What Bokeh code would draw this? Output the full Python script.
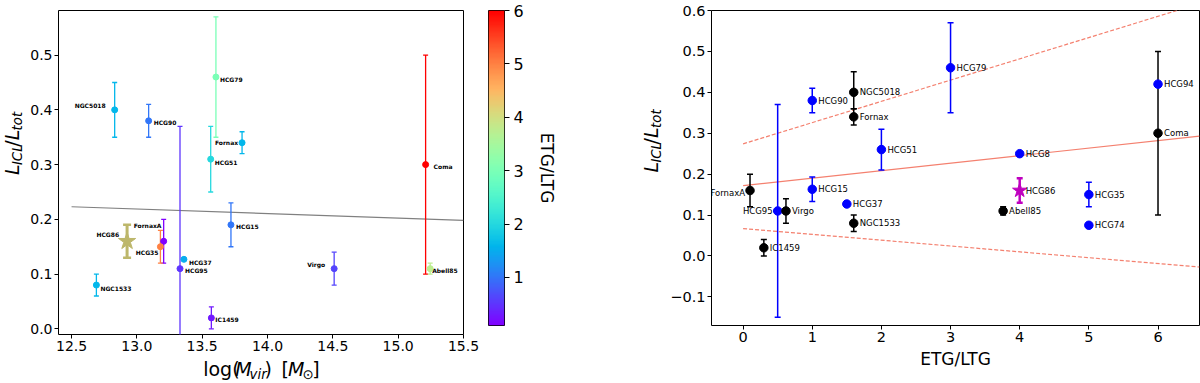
import math
import numpy as np
from bokeh.plotting import figure
from bokeh.layouts import row, column
from bokeh.models import ColumnDataSource, Range1d, FixedTicker, LinearColorMapper
from bokeh.transform import transform
from bokeh.core.properties import value
from bokeh.embed import file_html
from bokeh.resources import INLINE

# ---------------- data: left panel (L_ICL/L_tot vs log Mvir) ----------------
left_names = ["NGC5018", "HCG90", "HCG79", "HCG51", "Fornax", "HCG95", "HCG15", "FornaxA",
              "HCG35", "HCG37", "NGC1533", "IC1459", "Virgo", "Coma", "Abell85"]
left_logm = [12.83, 13.09, 13.605, 13.565, 13.805, 13.33, 13.72, 13.205,
             13.18, 13.36, 12.69, 13.57, 14.51, 15.21, 15.245]
left_frac = [0.40, 0.38, 0.46, 0.31, 0.34, 0.11, 0.19, 0.16,
             0.15, 0.127, 0.08, 0.02, 0.11, 0.30, 0.11]
left_lo = [0.35, 0.35, 0.35, 0.25, 0.32, -0.15, 0.15, 0.12,
           0.12, float("nan"), 0.06, 0.0, 0.08, 0.10, 0.10]
left_hi = [0.45, 0.41, 0.57, 0.37, 0.36, 0.37, 0.23, 0.20,
           0.18, float("nan"), 0.10, 0.04, 0.14, 0.50, 0.12]
left_etg = [1.6, 1.0, 3.0, 2.0, 1.6, 0.5, 1.0, 0.1,
            5.0, 1.5, 1.6, 0.3, 0.62, 6.0, 3.76]

star_name = ["HCG86"]
star_logm = [12.925]
star_frac = [0.16]
star_lo = [0.13]
star_hi = [0.19]

mass_fit_x = [12.5, 15.5]
mass_fit_y = [0.223, 0.198]

# ---------------- data: right panel (L_ICL/L_tot vs ETG/LTG) ----------------
right_names = ["FornaxA", "HCG95", "Virgo", "IC1459", "HCG90", "HCG15", "NGC5018", "Fornax",
               "HCG37", "NGC1533", "HCG51", "HCG79", "Abell85", "HCG8", "HCG86", "HCG35",
               "HCG74", "HCG94", "Coma"]
right_etg = [0.1, 0.5, 0.62, 0.3, 1.0, 1.0, 1.6, 1.6,
             1.5, 1.6, 2.0, 3.0, 3.76, 4.0, 4.0, 5.0,
             5.0, 6.0, 6.0]
right_frac = [0.16, 0.11, 0.11, 0.02, 0.38, 0.163, 0.40, 0.34,
              0.127, 0.08, 0.26, 0.46, 0.11, 0.25, 0.16, 0.15,
              0.075, 0.42, 0.30]
nan = float("nan")
right_lo = [0.12, -0.15, 0.08, 0.0, 0.35, 0.133, 0.36, 0.32,
            nan, 0.06, 0.21, 0.35, 0.10, nan, 0.13, 0.12,
            nan, nan, 0.10]
right_hi = [0.20, 0.37, 0.14, 0.04, 0.41, 0.193, 0.45, 0.36,
            nan, 0.10, 0.31, 0.57, 0.12, nan, 0.19, 0.18,
            nan, nan, 0.50]
right_kind = ["cluster", "group", "cluster", "cluster", "group", "group", "cluster", "cluster",
              "group", "cluster", "group", "group", "cluster", "group", "hcg86", "group",
              "group", "group", "cluster"]

fit_x = [0.0, 6.6]
fit_mid = [0.172, 0.293]
fit_up = [0.274, 0.617]
fit_low = [0.067, -0.027]

# ---------------- styles ----------------
FONT = "DejaVu Sans"
KIND_COLOR = {"group": "#0000ff", "cluster": "#000000", "hcg86": "#bf00bf"}

LEFT_LABEL_POS = {
    "NGC5018": (-9, -4, "right"), "HCG90": (5, 2, "left"), "HCG79": (4, 2, "left"),
    "HCG51": (4, 3, "left"), "Fornax": (-4, 0, "right"), "HCG95": (5, 2, "left"),
    "HCG15": (5, 2, "left"), "FornaxA": (-30, -16, "left"), "HCG35": (-2, 6, "right"),
    "HCG37": (5, 3, "left"), "NGC1533": (4, 3, "left"), "IC1459": (4, 2, "left"),
    "Virgo": (-9, -4, "right"), "Coma": (8, 2, "left"), "Abell85": (2, 2, "left"),
    "HCG86": (-8, -7, "right"),
}
RIGHT_LABEL_POS = {"FornaxA": (-5, 2, "right"), "HCG95": (-5, 0, "right")}


def rainbow_hex(t):
    r = min(max(abs(2 * t - 0.5), 0), 1)
    g = min(max(math.sin(math.pi * t), 0), 1)
    b = min(max(math.cos(math.pi * t / 2), 0), 1)
    return "#%02x%02x%02x" % (round(r * 255), round(g * 255), round(b * 255))


palette = [rainbow_hex(i / 255) for i in range(256)]
mapper = LinearColorMapper(palette=palette, low=min(left_etg), high=max(left_etg))

EM = {"l": 0.278, "o": 0.612, "g": 0.635, "(": 0.390, ")": 0.390, "M": 0.863, "v": 0.592,
      "i": 0.278, "r": 0.411, " ": 0.318, "[": 0.390, "]": 0.390, "\u2299": 0.838,
      "L": 0.557, "I": 0.295, "C": 0.698, "/": 0.337, "t": 0.392}
MID = 0.33  # distance (em) from alphabetic baseline to the 'middle' text baseline


def twidth(s, size):
    return sum(EM.get(c, 0.6) for c in s) * size


def style_axes(p, fs):
    p.outline_line_color = "black"
    p.outline_line_width = 1
    p.xgrid.visible = False
    p.ygrid.visible = False
    p.background_fill_color = "white"
    p.border_fill_color = "white"
    for ax in p.axis:
        ax.axis_line_color = None
        ax.major_tick_in = 0
        ax.major_tick_out = 4
        ax.major_tick_line_color = "black"
        ax.minor_tick_line_color = None
        ax.major_label_text_font = FONT
        ax.major_label_text_font_size = fs
        ax.major_label_text_color = "black"
        ax.major_label_standoff = 2


def text_fig(w, h):
    f = figure(width=w, height=h, x_range=Range1d(0, w), y_range=Range1d(0, h),
               output_backend="svg", toolbar_location=None, title=None,
               x_axis_location=None, y_axis_location=None,
               min_border_left=0, min_border_right=0, min_border_top=0, min_border_bottom=0)
    f.outline_line_color = None
    f.xgrid.visible = False
    f.ygrid.visible = False
    return f


def pieces_width(pieces):
    return sum(twidth(t, s) + g for t, s, _, _, g in pieces)


def rich_text(f, pieces, start, base, vertical=False):
    """pieces drawn in pixel coordinates of a text-only figure (y measured from bottom).
    base = alphabetic baseline position."""
    cur = start
    for text, size, style, drop, gap in pieces:
        cur += gap
        if vertical:
            x, y, ang = base + drop - MID * size, cur, math.pi / 2
        else:
            x, y, ang = cur, base - drop + MID * size, 0
        f.text(x=[x], y=[y], text=[text], angle=ang, text_font=value(FONT),
               text_font_size=f"{size}px", text_font_style=style, text_align="left",
               text_baseline="middle", text_color="black")
        cur += twidth(text, size)


def ylabel_pieces(main, sub, g):
    return [("L", main, "italic", 0, 0), ("ICL", sub, "italic", 3.5, g), ("/", main, "normal", 0, g),
            ("L", main, "italic", 0, g), ("tot", sub, "italic", 3.5, g)]


H = 383
ylp = ylabel_pieces(19, 13.3, 1.5)

# ================= left y-label strip =================
yl1 = text_fig(26, H)
rich_text(yl1, ylp, H - 200, 18, vertical=True)

# ================= left figure =================
LX, LY = (12.4, 15.5), (-0.0103, 0.5815)
p1 = figure(width=461, height=357, x_range=Range1d(*LX), y_range=Range1d(*LY),
            output_backend="svg", toolbar_location=None, title=None,
            min_border_left=32, min_border_right=24, min_border_top=10, min_border_bottom=23)
style_axes(p1, "14px")
xt = [12.5, 13.0, 13.5, 14.0, 14.5, 15.0, 15.5]
p1.xaxis.ticker = FixedTicker(ticks=xt)
p1.xaxis.major_label_overrides = {t: f"{t:.1f}" for t in xt}
yt = [0.0, 0.1, 0.2, 0.3, 0.4, 0.5]
p1.yaxis.ticker = FixedTicker(ticks=yt)
p1.yaxis.major_label_overrides = {t: f"{t:.1f}" for t in yt}

p1.line(mass_fit_x, mass_fit_y, line_color="#808080", line_width=1.2)

has_err = [i for i in range(len(left_names)) if not math.isnan(left_lo[i])]
err_l = ColumnDataSource(dict(x=[left_logm[i] for i in has_err], lo=[left_lo[i] for i in has_err],
                              hi=[left_hi[i] for i in has_err], etg=[left_etg[i] for i in has_err]))
cmap = transform("etg", mapper)
p1.segment(x0="x", y0="lo", x1="x", y1="hi", source=err_l, line_color=cmap, line_width=1.3)
p1.scatter("x", "lo", source=err_l, marker="dash", size=5, line_color=cmap, line_width=1.3)
p1.scatter("x", "hi", source=err_l, marker="dash", size=5, line_color=cmap, line_width=1.3)
pts_l = ColumnDataSource(dict(x=left_logm, y=left_frac, etg=left_etg))
p1.scatter("x", "y", source=pts_l, marker="circle", size=6, fill_color=cmap, line_color=cmap)

p1.segment(x0=star_logm, y0=star_lo, x1=star_logm, y1=star_hi, line_color="darkkhaki", line_width=3)
p1.scatter(star_logm, star_lo, marker="dash", size=8, line_color="darkkhaki", line_width=2.5)
p1.scatter(star_logm, star_hi, marker="dash", size=8, line_color="darkkhaki", line_width=2.5)
p1.scatter(star_logm, star_frac, marker="star", size=18, fill_color="darkkhaki", line_color="darkkhaki")

all_n = left_names + star_name
all_x = left_logm + star_logm
all_y = left_frac + star_frac
for align in ("left", "right"):
    idx = [i for i, n in enumerate(all_n) if LEFT_LABEL_POS[n][2] == align]
    src = ColumnDataSource(dict(x=[all_x[i] for i in idx], y=[all_y[i] for i in idx],
                                t=[all_n[i] for i in idx],
                                dx=[LEFT_LABEL_POS[all_n[i]][0] for i in idx],
                                dy=[LEFT_LABEL_POS[all_n[i]][1] for i in idx]))
    p1.text("x", "y", text="t", source=src, x_offset="dx", y_offset="dy",
            text_font=value(FONT), text_font_style="bold", text_font_size="6px",
            text_align=align, text_baseline="middle", text_color="black")

# ================= left x-label strip =================
xl1 = text_fig(461, H - 357)
xlp = [("log(", 19, "normal", 0, 0), ("M", 19, "italic", 0, 0), ("vir", 13.3, "italic", 4, 0),
       (")", 19, "normal", 0, 0), ("[", 19, "normal", 0, 12), ("M", 19, "italic", 0, 0),
       ("\u2299", 13.3, "normal", 4, 0), ("]", 19, "normal", 0, 0)]
rich_text(xl1, xlp, (256.5 - 26) - pieces_width(xlp) / 2, 8.5)

# ================= colorbar figure =================
lo_c, hi_c = min(left_etg), max(left_etg)
pc = figure(width=73, height=H, x_range=Range1d(0, 1), y_range=Range1d(lo_c, hi_c),
            output_backend="svg", toolbar_location=None, title=None, y_axis_location="right",
            min_border_left=1, min_border_right=56, min_border_top=10, min_border_bottom=49)
style_axes(pc, "16px")
pc.xaxis.visible = False
grad = np.linspace(lo_c, hi_c, 256).reshape(256, 1)
pc.image(image=[grad], x=0, y=lo_c, dw=1, dh=hi_c - lo_c, color_mapper=mapper)
pc.yaxis.ticker = FixedTicker(ticks=[1, 2, 3, 4, 5, 6])
pc.yaxis.major_tick_out = 5
pc.yaxis.major_label_standoff = 4
pc.yaxis.axis_label = "ETG/LTG"
pc.yaxis.axis_label_text_font = FONT
pc.yaxis.axis_label_text_font_size = "17px"
pc.yaxis.axis_label_text_font_style = "normal"
pc.yaxis.axis_label_text_color = "black"
pc.yaxis.axis_label_standoff = 10

# ================= right y-label strip =================
yl2 = text_fig(105, H)
rich_text(yl2, ylp, H - 197, 657 - 560, vertical=True)

# ================= right figure =================
RX, RY = (-0.457, 6.6), (-0.17, 0.6)
p2 = figure(width=535, height=H, x_range=Range1d(*RX), y_range=Range1d(*RY),
            output_backend="svg", toolbar_location=None, title=None,
            min_border_left=46, min_border_right=1, min_border_top=9, min_border_bottom=58)
style_axes(p2, "14.5px")
p2.xaxis.ticker = FixedTicker(ticks=[0, 1, 2, 3, 4, 5, 6])
ryt = [-0.1, 0.0, 0.1, 0.2, 0.3, 0.4, 0.5, 0.6]
p2.yaxis.ticker = FixedTicker(ticks=ryt)
p2.yaxis.major_label_overrides = {t: (f"{t:.1f}".replace("-", "\u2212")) for t in ryt}
p2.xaxis.axis_label = "ETG/LTG"
p2.xaxis.axis_label_text_font = FONT
p2.xaxis.axis_label_text_font_size = "17px"
p2.xaxis.axis_label_text_font_style = "normal"
p2.xaxis.axis_label_text_color = "black"
p2.xaxis.axis_label_standoff = 4

p2.line(fit_x, fit_mid, line_color="#f4806f", line_width=1.2)
p2.line(fit_x, fit_up, line_color="#f4806f", line_width=1.2, line_dash="4 2")
p2.line(fit_x, fit_low, line_color="#f4806f", line_width=1.2, line_dash="4 2")

colors_r = [KIND_COLOR[k] for k in right_kind]
ie = [i for i in range(len(right_names)) if not math.isnan(right_lo[i])]
err_r = ColumnDataSource(dict(x=[right_etg[i] for i in ie], lo=[right_lo[i] for i in ie],
                              hi=[right_hi[i] for i in ie], c=[colors_r[i] for i in ie],
                              w=[2.5 if right_kind[i] == "hcg86" else 1.5 for i in ie]))
p2.segment(x0="x", y0="lo", x1="x", y1="hi", source=err_r, line_color="c", line_width="w")
p2.scatter("x", "lo", source=err_r, marker="dash", size=6, line_color="c", line_width="w")
p2.scatter("x", "hi", source=err_r, marker="dash", size=6, line_color="c", line_width="w")

ic = [i for i in range(len(right_names)) if right_kind[i] != "hcg86"]
pts_r = ColumnDataSource(dict(x=[right_etg[i] for i in ic], y=[right_frac[i] for i in ic],
                              c=[colors_r[i] for i in ic]))
p2.scatter("x", "y", source=pts_r, marker="circle", size=8.5, fill_color="c", line_color="c")
ist = [i for i in range(len(right_names)) if right_kind[i] == "hcg86"]
p2.scatter([right_etg[i] for i in ist], [right_frac[i] for i in ist], marker="star", size=15,
           fill_color=KIND_COLOR["hcg86"], line_color=KIND_COLOR["hcg86"])

for align in ("left", "right"):
    idx = [i for i, n in enumerate(right_names) if RIGHT_LABEL_POS.get(n, (6, 0, "left"))[2] == align]
    src = ColumnDataSource(dict(x=[right_etg[i] for i in idx], y=[right_frac[i] for i in idx],
                                t=[right_names[i] for i in idx],
                                dx=[RIGHT_LABEL_POS.get(right_names[i], (6, 0, "left"))[0] for i in idx],
                                dy=[RIGHT_LABEL_POS.get(right_names[i], (6, 0, "left"))[1] for i in idx]))
    p2.text("x", "y", text="t", source=src, x_offset="dx", y_offset="dy",
            text_font=value(FONT), text_font_size="8.5px",
            text_align=align, text_baseline="middle", text_color="black")

layout = row(yl1, column(p1, xl1), pc, yl2, p2)
open("out.html", "w").write(file_html(layout, INLINE))
